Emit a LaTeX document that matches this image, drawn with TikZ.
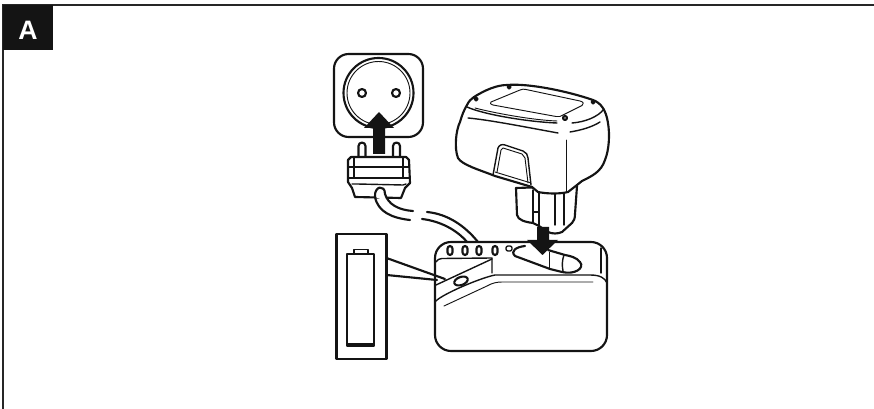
\documentclass[tikz,border=0pt]{standalone}
\usepackage{fontspec}
\setmainfont{Liberation Sans}
\tikzset{
 thick line/.style={draw=black!92,line width=1.6pt,line join=round,line cap=round},
 mid line/.style={draw=black!92,line width=1.05pt,line join=round,line cap=round},
 thin line/.style={draw=black!92,line width=0.7pt,line join=round,line cap=round},
 solid arrow/.style={fill=black!92,draw=none}
}
\begin{document}
\begin{tikzpicture}[x=0.75pt,y=-0.75pt]
\useasboundingbox (0,0) rectangle (874,409);
% frame
\draw[draw=black!85,line width=0.9pt] (3,409) -- (3,5) -- (874,5);
\fill[black!92] (3,5) rectangle (53,50);
\node[text=white,font=\bfseries\fontsize{20}{20}\selectfont,inner sep=0] (lab) at (28,30) {A};
% socket
\draw[thick line,rounded corners=11pt] (334,54) rectangle (423,137);
\draw[thick line] (378.5,93) circle (35);
\draw[thin line] (378.5,93) circle (31.5);
\draw[thick line] (362,93) circle (4);
\draw[thick line] (396,93) circle (4);
% plug pins
\draw[thick line,fill=white] (358.5,157) -- (358.5,146) arc (180:360:3.5) -- (365.5,157);
\draw[thick line,fill=white] (393,157) -- (393,146) arc (180:360:3.5) -- (400,157);
% plug body
\draw[thick line,fill=white] (351,157) -- (406,157) -- (409,160) -- (410,183) -- (405,188) -- (401,198) -- (355,197) -- (352,188) -- (348,182) -- (348,160) -- cycle;
\draw[mid line] (349,167) -- (409,167);
\draw[mid line] (349,178) -- (409,178);
\draw[mid line] (352,184) -- (357,184) -- (403,185) -- (406,184);
\draw[mid line] (354,158) -- (354,178);
\draw[mid line] (403,158) -- (403,178);
% arrow to socket
\fill[solid arrow] (373,154) -- (373,128) -- (364,128) -- (379,112) -- (394,128) -- (385,128) -- (385,154) -- cycle;
% cable
\draw[thick line,fill=white] (375,197) .. controls (374,186) and (385,184) .. (385,194) .. controls (388,204) and (398,210) .. (413,211);
\draw[thick line] (375,197) .. controls (378,212) and (392,218) .. (410,220);
\draw[thick line] (427,212) .. controls (448,214) and (465,226) .. (478,242);
\draw[thick line] (422,219) .. controls (440,221) and (457,230) .. (467,242);
% callout box
\draw[thick line] (336.5,234) rectangle (386.5,359);
\draw[thick line] (347,254) rectangle (374,346);
\draw[mid line] (354,254) -- (354,249.5) -- (368,249.5) -- (368,254);
\fill[black!92] (347,343) rectangle (374,347);
% charger
\draw[thick line,rounded corners=12pt] (435,242) rectangle (607,351);
\foreach \xx/\nn in {450/a,465/b,479/c,495/d}{
  \draw[thick line,rounded corners=2pt] (\xx-2.5,246) rectangle (\xx+2.5,255);
}
\draw[mid line,rounded corners=1.5pt] (506,246) rectangle (512,251);
\draw[thick line] (525,246) .. controls (516,247) and (510,251) .. (515,256) -- (550,269) -- (562,272) .. controls (575,275) and (585,268) .. (580,262) .. controls (576,257) and (570,256) .. (565,255) -- (548,250);
\draw[thin line] (549,252) -- (549,269);
\draw[mid line] (564,255) .. controls (562,260) and (562,266) .. (563,271);
\draw[mid line] (601,248) -- (601,273);
% panel
\draw[mid line] (436,262) .. controls (437,259) and (440,259) .. (442,258.5) -- (492,258) -- (492,273);
\draw[mid line] (436,285) -- (492,259);
\draw[mid line] (435,302) .. controls (440,295) and (480,278) .. (495,275) -- (590,275) .. controls (600,275) and (605,278) .. (607,283);
\draw[thin line] (444,306) -- (487,286) .. controls (492,283) and (497,282) .. (502,282) -- (593,282);
\draw[thick line,rotate around={20:(461,281)}] (461,281) ellipse (7 and 4);
% callout lines
\draw[thick line] (386.5,258) -- (445,279);
\draw[thick line] (386.5,275) -- (437,280);
% battery lower part
\draw[thick line,fill=white] (516,188) -- (517,215) .. controls (518,220) and (525,222) .. (533,223) -- (539,226) -- (548,232) .. controls (552,234) and (558,234) .. (562,232) -- (572,223) .. controls (574,221) and (575,218) .. (575,214) -- (577,186) -- cycle;
\draw[mid line] (533,190) -- (533,223);
\draw[mid line] (539,192) -- (539,225);
\draw[mid line] (533,212) -- (539,212);
\draw[mid line] (555,194) -- (555,225);
\draw[mid line] (564,193) -- (564,225);
% battery body
\draw[thick line,fill=white] (467,105) .. controls (469,101) and (471,99) .. (474,97) .. controls (485,90) and (497,85) .. (507,85) .. controls (530,83) and (570,92) .. (593,100) .. controls (601,103) and (606,110) .. (608,123) .. controls (610,135) and (609,150) .. (605,160) .. controls (601,172) and (592,176) .. (582,181) -- (577,185) -- (568,192) .. controls (560,194) and (548,194) .. (538,192) -- (532,187) -- (495,176) .. controls (480,170) and (462,165) .. (458,158) .. controls (454,148) and (456,130) .. (460,122) .. controls (462,115) and (464,110) .. (467,105) -- cycle;
\draw[thin line] (491,102) -- (520,90) .. controls (522,89) and (524,89) .. (526,89.5) -- (580,101) .. controls (584,102) and (584,104) .. (582,105.5) -- (563,115) .. controls (561,116.5) and (559,117) .. (556,116.5) -- (493,105) .. controls (490,104) and (490,103) .. (491,102) -- cycle;
\draw[mid line] (467,107) .. controls (485,115) and (530,122) .. (557,123);
\draw[thin line] (475,108) .. controls (490,112) and (530,120) .. (557,121);
\draw[mid line] (468,118) .. controls (490,120) and (525,127) .. (558,133);
\draw[mid line] (572,123) .. controls (585,122) and (598,117) .. (604,109);
\draw[mid line] (570,132) .. controls (582,130) and (592,127) .. (600,122);
\draw[thin line] (566,140) -- (566,192);
\draw[thick line] (476,99) circle (1.5);
\draw[thick line] (509,87) circle (1.5);
\draw[thick line] (593,102) circle (1.5);
\draw[thick line] (565,118) circle (2);
% latch
\draw[mid line] (493,175) -- (498,148) .. controls (499,145) and (502,144) .. (505,145) -- (523,151) .. controls (526,152) and (528,155) .. (528,158) -- (531,185);
\draw[thin line] (497,172) -- (501,150) -- (503,148) -- (522,154) -- (525,158) -- (528,183);
\draw[thin line] (495,172) -- (531,183);
% battery arrow
\fill[solid arrow] (537,227) -- (537,240) -- (527,240) -- (542.5,255) -- (558,240) -- (549,240) -- (549,227) -- cycle;
\end{tikzpicture}
\end{document}
